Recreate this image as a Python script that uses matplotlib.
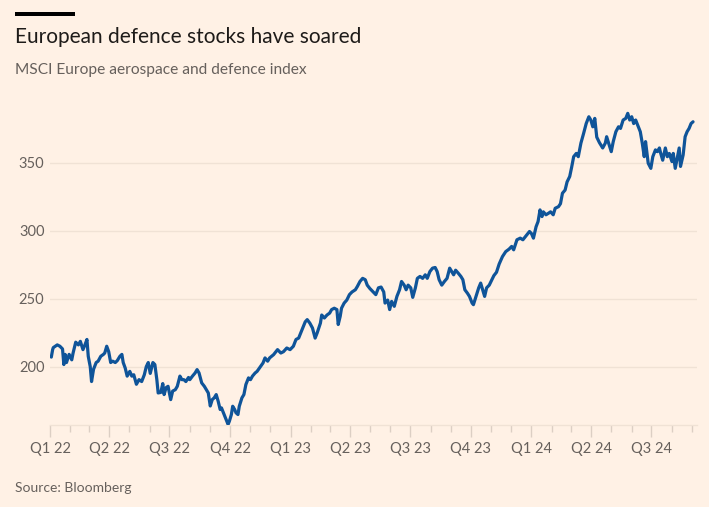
import matplotlib
matplotlib.use('Agg')
import matplotlib.pyplot as plt
import matplotlib.dates as mdates
import pandas as pd
from matplotlib.patches import Rectangle

# ---------------- data ----------------
start_date = '2022-01-01'
days_since_start = [
    2, 4, 5, 11, 15, 19, 21, 23, 25, 29, 33, 35, 39, 43, 46, 50, 53, 56, 58, 61,
    63, 66, 70, 73, 77, 81, 83, 86, 89, 92, 95, 99, 102, 106, 109, 111, 114, 117, 121, 124,
    127, 131, 135, 139, 143, 146, 149, 152, 156, 159, 162, 164, 168, 171, 173, 176, 179, 183, 186, 190,
    193, 197, 200, 203, 206, 210, 212, 216, 220, 223, 226, 230, 234, 237, 240, 243, 246, 249, 252, 255,
    258, 260, 264, 267, 270, 272, 275, 277, 280, 282, 285, 287, 291, 294, 297, 301, 304, 307, 311, 314,
    319, 323, 326, 330, 333, 339, 345, 350, 354, 359, 364, 369, 373, 377, 382, 387, 390, 394, 398, 402,
    405, 410, 412, 416, 420, 424, 427, 431, 435, 437, 440, 442, 446, 450, 454, 458, 463, 466, 470, 474,
    478, 481, 485, 490, 494, 498, 502, 506, 508, 512, 515, 518, 522, 526, 530, 533, 537, 540, 543, 547,
    550, 554, 557, 561, 565, 569, 572, 576, 580, 584, 587, 590, 594, 598, 602, 606, 609, 612, 615, 619,
    623, 626, 629, 633, 636, 640, 642, 646, 650, 653, 656, 659, 662, 666, 670, 673, 677, 681, 686, 691,
    696, 700, 703, 708, 713, 717, 723, 727, 730, 733, 737, 740, 743, 746, 748, 752, 756, 759, 763, 766,
    771, 774, 777, 781, 784, 788, 791, 794, 798, 801, 805, 809, 813, 817, 820, 823, 826, 829, 833, 838,
    842, 844, 848, 851, 854, 858, 862, 865, 869, 873, 876, 879, 882, 885, 888, 892, 895, 898, 901, 903,
    907, 911, 914, 918, 921, 924, 926, 929, 933, 936, 939, 943, 945, 948, 951, 954, 956, 960, 963, 966,
    969, 972, 975,
]
index_values = [
    207, 212.5, 214, 216, 215, 213, 201.5, 209, 203, 209, 205, 210, 218, 216, 218.6, 212.5, 216, 220, 207.6, 200,
    189, 198, 203, 204, 207.6, 209, 210, 215, 211, 203, 204, 203, 204.4, 207.6, 209, 203, 199, 193, 196.5, 193,
    194, 187, 190.4, 189, 194, 200, 203, 195, 203, 201.5, 190.4, 180.6, 181, 187.5, 179.4, 184.5, 185.5, 175.7, 182, 183,
    185.5, 193, 190.4, 190.4, 189, 192, 190.4, 193, 195.3, 197.8, 195.3, 188, 185.5, 183, 180.6, 171, 175.7, 177, 179.4, 174.5,
    168.4, 169.6, 164.7, 161, 157.4, 159.8, 164.7, 170.8, 168.4, 166, 164.7, 170.8, 177, 179.4, 186.8, 191.7, 190.4, 193, 195.3, 196.5,
    200, 202.7, 206.4, 204, 206.4, 208.8, 212.5, 210, 211, 213.7, 212.5, 215, 220, 221, 227, 233, 234.6, 232, 228.4, 221,
    224.7, 232, 238, 235.8, 238, 239.4, 242, 243, 242, 231, 237, 243, 246.8, 249, 253, 255, 256.6, 259, 262.7, 265,
    264, 260, 257.5, 255, 253, 258, 258.6, 255, 246.8, 249, 242, 248, 244.4, 251.7, 256.6, 262.7, 260, 256.6, 260, 258,
    251, 258, 265, 266.4, 265, 267.6, 265, 270, 272.5, 273, 270, 264, 260, 262.7, 265, 272.5, 270, 267.6, 271, 268.8,
    266.4, 264, 256.6, 254, 251.7, 246.8, 245.6, 251.7, 258, 261.5, 256.6, 251.7, 258, 260, 264, 267, 269.5, 275.5, 281, 284.7,
    286.5, 288.5, 286, 293.4, 294.6, 293.4, 297, 299.5, 298, 294.6, 303, 306.8, 315.4, 310.5, 314, 311.8, 313, 314, 311.8, 316.6,
    317.8, 320, 327.7, 330, 336, 340, 347, 354.6, 357, 354.6, 364.6, 371.6, 379, 384, 381.6, 376.6, 382.8, 369, 365, 361,
    364.6, 369.3, 363, 358.3, 365.7, 373, 376.6, 375.4, 381.6, 382.8, 386.5, 381.6, 384, 379, 381.6, 376.6, 373, 364.6, 354.6, 365.7,
    349.8, 346, 354.6, 359.6, 358.3, 361, 357, 352, 361, 354.6, 357, 351, 357, 346, 353.4, 361, 347.4, 355.9, 369.3, 373,
    375.4, 379, 380.3,
]
quarter_labels = ['Q1 22', 'Q2 22', 'Q3 22', 'Q4 22', 'Q1 23', 'Q2 23', 'Q3 23',
                  'Q4 23', 'Q1 24', 'Q2 24', 'Q3 24']
y_ticks = [200, 250, 300, 350]

title = 'European defence stocks have soared'
subtitle = 'MSCI Europe aerospace and defence index'
source = 'Source: Bloomberg'

# ---------------- style ----------------
BG = '#FFF1E5'
LINE = '#0F5499'
GREY = '#66605C'
GRID = '#F0E2D5'
TICK = '#DCCFC4'
FONT = ['Lato', 'DejaVu Sans']
plt.rcParams['font.family'] = FONT

dates = pd.to_datetime(start_date) + pd.to_timedelta(days_since_start, unit='D')
quarter_dates = pd.date_range('2022-01-01', periods=len(quarter_labels), freq='QS')

W, H = 709, 507
fig = plt.figure(figsize=(W / 100, H / 100), dpi=100, facecolor=BG)
ax_left, ax_right = 50 / W, 697 / W
ax_bottom, ax_top = 1 - 425 / H, 1 - 108.6 / H
ax = fig.add_axes([ax_left, ax_bottom, ax_right - ax_left, ax_top - ax_bottom])
ax.set_facecolor(BG)

ax.plot(dates, index_values, color=LINE, lw=2.3, solid_joinstyle='round',
        solid_capstyle='round', zorder=3)

ax.set_ylim(157, 390)
ax.set_xlim(pd.Timestamp('2022-01-01'), pd.Timestamp('2024-09-08'))

ax.set_yticks(y_ticks)
ax.set_yticklabels([str(v) for v in y_ticks])
ax.tick_params(axis='y', length=0, pad=4, labelsize=10.5, labelcolor=GREY)
ax.yaxis.grid(True, color=GRID, lw=1)
ax.xaxis.grid(False)

ax.set_xticks(quarter_dates)
ax.set_xticklabels(quarter_labels)
ax.xaxis.set_minor_locator(mdates.MonthLocator())
ax.tick_params(axis='x', which='major', length=8.4, width=1, color=TICK,
               pad=4, labelsize=10.5, labelcolor=GREY)
ax.tick_params(axis='x', which='minor', length=4.8, width=1, color=TICK)

for s in ['top', 'right', 'left']:
    ax.spines[s].set_visible(False)
ax.spines['bottom'].set_color(GRID)
ax.spines['bottom'].set_linewidth(1)
ax.set_axisbelow(True)

# header / footer
fig.add_artist(Rectangle((15 / W, 1 - 15.7 / H), 60 / W, 3.4 / H,
                         transform=fig.transFigure, color='#000000', lw=0))
fig.text(15 / W, 1 - 43.3 / H, title, fontsize=15, color='#1E1B19', va='baseline', ha='left')
fig.text(15 / W, 1 - 74 / H, subtitle, fontsize=11.2, color=GREY, va='baseline', ha='left')
fig.text(15 / W, 1 - 491.7 / H, source, fontsize=10, color=GREY, va='baseline', ha='left')

fig.savefig('out.png', dpi=100, facecolor=BG)
